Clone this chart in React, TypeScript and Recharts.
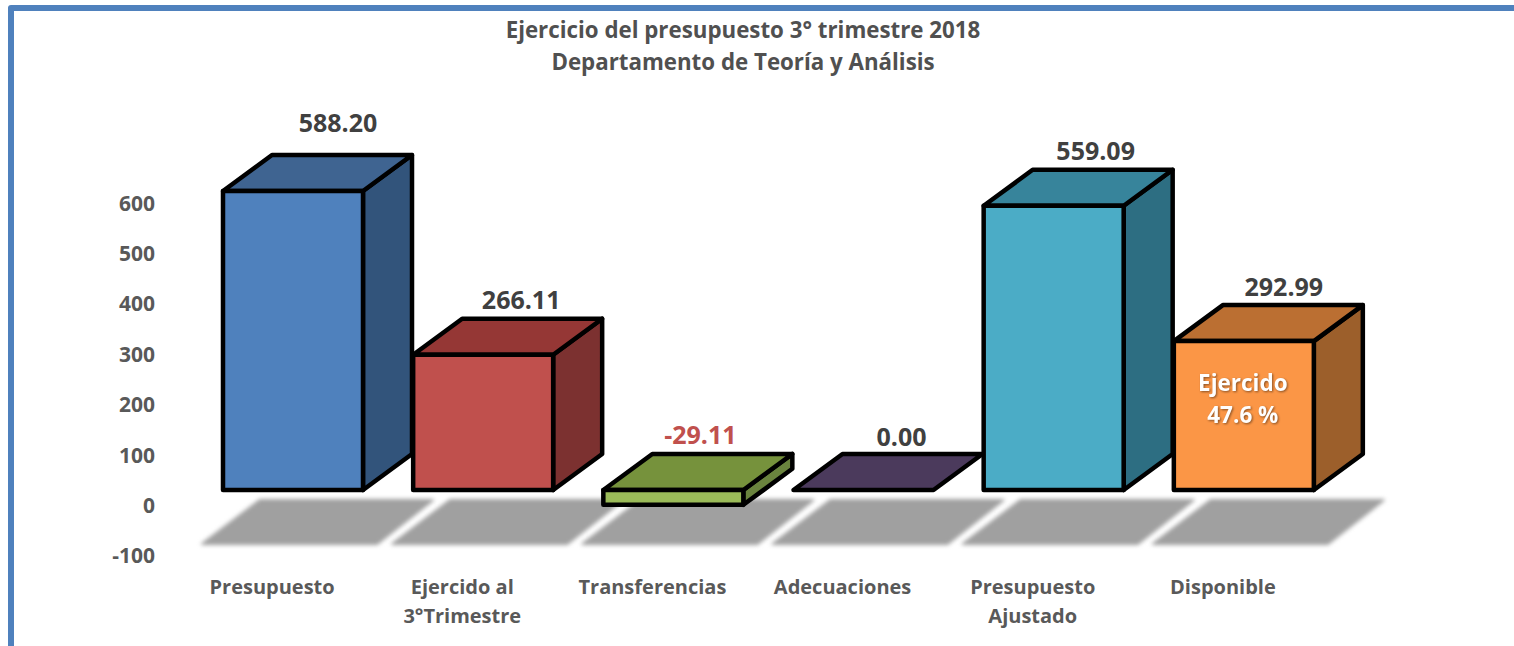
import React from 'react';
import { BarChart, Bar, XAxis, YAxis, LabelList } from 'recharts';

const CATEGORIES = ['Presupuesto', 'Ejercido al\n3°Trimestre', 'Transferencias', 'Adecuaciones', 'Presupuesto\nAjustado', 'Disponible'];
const VALUES = [588.2, 266.11, -29.11, 0, 559.09, 292.99];
const Y_TICKS = [-100, 0, 100, 200, 300, 400, 500, 600];
const TITLE_LINES = ['Ejercicio del presupuesto 3° trimestre 2018', 'Departamento de Teoría y Análisis'];
const NOTE_LINES = ['Ejercido', '47.6 %'];
const NOTE_INDEX = 5;

const FRONT_COLORS = ['#4f81bd', '#c0504d', '#9bbb59', '#4b3a5c', '#4bacc6', '#fb9646'];
const TOP_COLORS = ['#3f6491', '#953735', '#76923c', '#4b3a5c', '#37849b', '#bb6f32'];
const SIDE_COLORS = ['#32547b', '#7c3130', '#6a843e', '#3c2f4a', '#2d6e82', '#9c5f2b'];
const VALUE_COLORS = ['#404040', '#404040', '#c0504d', '#404040', '#404040', '#404040'];

// the labels were hand placed in the original, so each one has its own nudge
const LABEL_NUDGE = [
  [45, -32],
  [38, -19],
  [27, -19],
  [38, -17],
  [42, -19],
  [40, -18],
];

const FONT = '"Open Sans", sans-serif';
const DEPTH_X = 49;
const DEPTH_Y = 36;

const pts = (list: number[][]) => list.map((p) => p.join(',')).join(' ');

const Box3D = (props: any) => {
  const { x, y, width, height, index } = props;
  const base = y + height;
  const top = Math.min(y, base);
  const bottom = Math.max(y, base);
  const right = x + width;
  const cx = x + width / 2;
  const edge = { stroke: '#000', strokeWidth: 4.5, strokeLinejoin: 'round' as const };

  return (
    <g>
      <polygon
        points={pts([
          [cx - 91, base + 54],
          [cx + 84, base + 54],
          [cx + 140, base + 10],
          [cx - 33, base + 10],
        ])}
        fill="#a0a0a0"
        stroke="#a0a0a0"
        strokeWidth={2}
        strokeLinejoin="round"
        style={{ filter: 'blur(2px)' }}
      />
      {bottom > top && (
        <polygon
          points={pts([
            [right, top],
            [right + DEPTH_X, top - DEPTH_Y],
            [right + DEPTH_X, bottom - DEPTH_Y],
            [right, bottom],
          ])}
          fill={SIDE_COLORS[index]}
          {...edge}
        />
      )}
      <polygon
        points={pts([
          [x, top],
          [x + DEPTH_X, top - DEPTH_Y],
          [right + DEPTH_X, top - DEPTH_Y],
          [right, top],
        ])}
        fill={TOP_COLORS[index]}
        {...edge}
      />
      {bottom > top && <rect x={x} y={top} width={width} height={bottom - top} fill={FRONT_COLORS[index]} {...edge} />}
    </g>
  );
};

const ValueLabel = (props: any) => {
  const { x, y, width, height, index } = props;
  const top = Math.min(y, y + height);
  const cx = x + width / 2;
  const [nudgeX, nudgeY] = LABEL_NUDGE[index];
  return (
    <g fontFamily={FONT} fontWeight={700} textAnchor="middle">
      <text x={cx + nudgeX} y={top - DEPTH_Y + nudgeY + 9} fontSize={25} fill={VALUE_COLORS[index]}>
        {VALUES[index].toFixed(2)}
      </text>
      {index === NOTE_INDEX &&
        NOTE_LINES.map((line, i) => (
          <text
            key={line}
            x={cx - 1}
            y={top + 50 + i * 32}
            fontSize={22.5}
            fill="#fff"
            style={{ filter: 'drop-shadow(1px 1px 1px rgba(0,0,0,0.45))' }}
          >
            {line}
          </text>
        ))}
    </g>
  );
};

const CategoryTick = (props: any) => {
  const { x, y, payload } = props;
  return (
    <text x={x - 21} y={y} textAnchor="middle" fontFamily={FONT} fontWeight={700} fontSize={20} fill="#595959">
      {String(payload.value)
        .split('\n')
        .map((line, i) => (
          <tspan key={line} x={x - 21} dy={i === 0 ? 23 : 29}>
            {line}
          </tspan>
        ))}
    </text>
  );
};

// the value labels sit on the 3d floor, which is lower than the bars' zero line
const ValueTick = (props: any) => {
  const { y, payload } = props;
  return (
    <text x={155} y={506 + (y - 490) * 0.9915 + 7} textAnchor="end" fontFamily={FONT} fontWeight={700} fontSize={21} fill="#595959">
      {payload.value}
    </text>
  );
};

export default function App() {
  const data = CATEGORIES.map((name, i) => ({ name, value: VALUES[i] }));

  return (
    <div style={{ position: 'absolute', left: 0, top: 0, width: 1514, height: 646, overflow: 'hidden', background: '#fff' }}>
      <div
        style={{
          position: 'absolute',
          left: 8,
          top: 5,
          width: 1700,
          height: 900,
          border: '6px solid #4f81bd',
          borderRadius: 3,
        }}
      />
      <div style={{ position: 'absolute', left: 0, top: 0 }}>
        <BarChart width={1514} height={646} data={data} barSize={140} margin={{ top: 174.85, right: 175, bottom: 14.67, left: 138 }}>
          <XAxis dataKey="name" height={60} axisLine={false} tickLine={false} tickSize={0} tickMargin={0} interval={0} tick={<CategoryTick />} />
          <YAxis width={60} domain={[-160, 620]} ticks={Y_TICKS} interval={0} axisLine={false} tickLine={false} tick={<ValueTick />} />
          <Bar dataKey="value" shape={<Box3D />} isAnimationActive={false}>
            <LabelList dataKey="value" content={<ValueLabel />} />
          </Bar>
          {TITLE_LINES.map((line, i) => (
            <text key={line} x={743} y={38 + i * 32} textAnchor="middle" fontFamily={FONT} fontWeight={700} fontSize={22.3} fill="#505050">
              {line}
            </text>
          ))}
        </BarChart>
      </div>
    </div>
  );
}
